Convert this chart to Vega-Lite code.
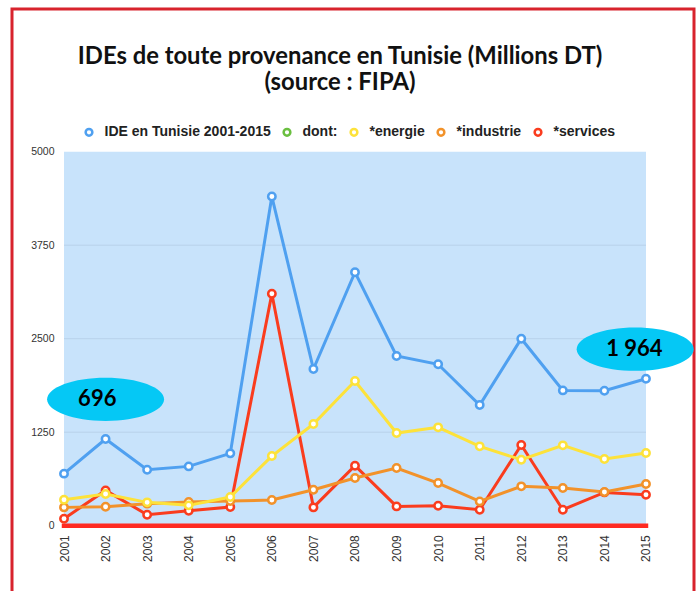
{
  "$schema": "https://vega.github.io/schema/vega-lite/v6.json",
  "width": 682,
  "height": 585,
  "autosize": {"type": "none"},
  "padding": {"left": 12, "top": 9, "right": 3, "bottom": -3},
  "background": "white",
  "config": {
    "view": {"stroke": "#d8232d", "strokeWidth": 3},
    "font": "Liberation Sans"
  },
  "title": {
    "text": ["IDEs de toute provenance en Tunisie (Millions DT)", "(source : FIPA)"],
    "font": "Lato",
    "fontSize": 23.8,
    "fontWeight": "bold",
    "color": "#111111",
    "anchor": "middle",
    "frame": "group",
    "dx": -13,
    "lineHeight": 26,
    "offset": -86
  },
  "datasets": {
    "series": [
      {"year": 2001, "series": "*services", "value": 94},
      {"year": 2002, "series": "*services", "value": 472},
      {"year": 2003, "series": "*services", "value": 147},
      {"year": 2004, "series": "*services", "value": 200},
      {"year": 2005, "series": "*services", "value": 250},
      {"year": 2006, "series": "*services", "value": 3102},
      {"year": 2007, "series": "*services", "value": 245},
      {"year": 2008, "series": "*services", "value": 802},
      {"year": 2009, "series": "*services", "value": 258},
      {"year": 2010, "series": "*services", "value": 267},
      {"year": 2011, "series": "*services", "value": 214},
      {"year": 2012, "series": "*services", "value": 1079},
      {"year": 2013, "series": "*services", "value": 214},
      {"year": 2014, "series": "*services", "value": 445},
      {"year": 2015, "series": "*services", "value": 414},
      {"year": 2001, "series": "*industrie", "value": 245},
      {"year": 2002, "series": "*industrie", "value": 254},
      {"year": 2003, "series": "*industrie", "value": 295},
      {"year": 2004, "series": "*industrie", "value": 316},
      {"year": 2005, "series": "*industrie", "value": 330},
      {"year": 2006, "series": "*industrie", "value": 343},
      {"year": 2007, "series": "*industrie", "value": 481},
      {"year": 2008, "series": "*industrie", "value": 637},
      {"year": 2009, "series": "*industrie", "value": 771},
      {"year": 2010, "series": "*industrie", "value": 570},
      {"year": 2011, "series": "*industrie", "value": 325},
      {"year": 2012, "series": "*industrie", "value": 526},
      {"year": 2013, "series": "*industrie", "value": 503},
      {"year": 2014, "series": "*industrie", "value": 450},
      {"year": 2015, "series": "*industrie", "value": 557},
      {"year": 2001, "series": "*energie", "value": 348},
      {"year": 2002, "series": "*energie", "value": 424},
      {"year": 2003, "series": "*energie", "value": 312},
      {"year": 2004, "series": "*energie", "value": 272},
      {"year": 2005, "series": "*energie", "value": 383},
      {"year": 2006, "series": "*energie", "value": 931},
      {"year": 2007, "series": "*energie", "value": 1359},
      {"year": 2008, "series": "*energie", "value": 1934},
      {"year": 2009, "series": "*energie", "value": 1239},
      {"year": 2010, "series": "*energie", "value": 1315},
      {"year": 2011, "series": "*energie", "value": 1061},
      {"year": 2012, "series": "*energie", "value": 882},
      {"year": 2013, "series": "*energie", "value": 1074},
      {"year": 2014, "series": "*energie", "value": 891},
      {"year": 2015, "series": "*energie", "value": 971},
      {"year": 2001, "series": "IDE en Tunisie 2001-2015", "value": 696},
      {"year": 2002, "series": "IDE en Tunisie 2001-2015", "value": 1159},
      {"year": 2003, "series": "IDE en Tunisie 2001-2015", "value": 749},
      {"year": 2004, "series": "IDE en Tunisie 2001-2015", "value": 793},
      {"year": 2005, "series": "IDE en Tunisie 2001-2015", "value": 967},
      {"year": 2006, "series": "IDE en Tunisie 2001-2015", "value": 4400},
      {"year": 2007, "series": "IDE en Tunisie 2001-2015", "value": 2095},
      {"year": 2008, "series": "IDE en Tunisie 2001-2015", "value": 3388},
      {"year": 2009, "series": "IDE en Tunisie 2001-2015", "value": 2269},
      {"year": 2010, "series": "IDE en Tunisie 2001-2015", "value": 2158},
      {"year": 2011, "series": "IDE en Tunisie 2001-2015", "value": 1613},
      {"year": 2012, "series": "IDE en Tunisie 2001-2015", "value": 2500},
      {"year": 2013, "series": "IDE en Tunisie 2001-2015", "value": 1809},
      {"year": 2014, "series": "IDE en Tunisie 2001-2015", "value": 1805},
      {"year": 2015, "series": "IDE en Tunisie 2001-2015", "value": 1964}
    ],
    "panel": [{"x1": 2001, "x2": 2015, "y1": 0, "y2": 5000}],
    "grid": [{"v": 1250}, {"v": 2500}, {"v": 3750}],
    "callouts": [
      {"year": 2002.0, "value": 1690, "label": "696", "labelYear": 2001.8},
      {"year": 2014.74, "value": 2360, "label": "1 964", "labelYear": 2014.72}
    ]
  },
  "layer": [
    {
      "data": {"name": "panel"},
      "mark": {"type": "rect", "fill": "#c8e3fb"},
      "encoding": {
        "x": {"field": "x1", "type": "quantitative", "scale": {"domain": [1999.749, 2016.155], "nice": false, "zero": false},
          "axis": {"values": [2001, 2002, 2003, 2004, 2005, 2006, 2007, 2008, 2009, 2010, 2011, 2012, 2013, 2014, 2015], "format": "d", "labelAngle": -90, "offset": -68.3, "labelPadding": 9, "ticks": false, "domain": false, "grid": false, "title": null, "labelFontSize": 12, "labelColor": "#333333", "labelFont": "Liberation Sans"}},
        "x2": {"field": "x2"},
        "y": {"field": "y1", "type": "quantitative", "scale": {"domain": [-913.1, 6907.8], "nice": false, "zero": false},
          "axis": {"values": [0, 1250, 2500, 3750, 5000], "format": "d", "offset": -52, "labelPadding": 10, "ticks": false, "domain": false, "grid": false, "title": null, "labelFontSize": 10.5, "labelColor": "#333333", "labelFont": "Liberation Sans"}},
        "y2": {"field": "y2"}
      }
    },
    {
      "data": {"name": "grid"},
      "mark": {"type": "rule", "stroke": "#b8d2ea", "strokeWidth": 1},
      "encoding": {
        "y": {"field": "v", "type": "quantitative"},
        "x": {"datum": 2001, "type": "quantitative"},
        "x2": {"datum": 2015}
      }
    },
    {
      "data": {"name": "panel"},
      "mark": {"type": "rule", "stroke": "#ff2a22", "strokeWidth": 4.5, "strokeCap": "square"},
      "encoding": {
        "x": {"field": "x1", "type": "quantitative"},
        "x2": {"field": "x2"},
        "y": {"datum": 0, "type": "quantitative"}
      }
    },
    {
      "data": {"name": "series"},
      "mark": {"type": "line", "strokeWidth": 3},
      "encoding": {
        "x": {"field": "year", "type": "quantitative"},
        "y": {"field": "value", "type": "quantitative"},
        "stroke": {"field": "series", "type": "nominal",
          "scale": {"domain": ["IDE en Tunisie 2001-2015", "dont:", "*energie", "*industrie", "*services"], "range": ["#4fa0f0", "#6abf40", "#fde23a", "#f2922a", "#fa3c1e"]},
          "legend": {"orient": "none", "direction": "horizontal", "legendX": 70, "legendY": 116, "title": null, "symbolType": "circle", "symbolSize": 45, "symbolStrokeWidth": 2.5, "symbolFillColor": "white", "labelFont": "Liberation Sans", "labelFontSize": 14, "labelFontWeight": "bold", "labelColor": "#222222", "labelOffset": 8.5, "labelLimit": 400, "columnPadding": 7, "padding": 0}},
        "order": {"field": "year", "type": "quantitative"}
      }
    },
    {
      "data": {"name": "series"},
      "mark": {"type": "point", "shape": "circle", "size": 55, "strokeWidth": 2.5, "fill": "white", "filled": false, "opacity": 1, "fillOpacity": 1},
      "encoding": {
        "x": {"field": "year", "type": "quantitative"},
        "y": {"field": "value", "type": "quantitative"},
        "stroke": {"field": "series", "type": "nominal"}
      }
    },
    {
      "data": {"name": "callouts"},
      "mark": {"type": "point", "shape": "M-1,0C-1,-0.204,-0.552,-0.37,0,-0.37C0.552,-0.37,1,-0.204,1,0C1,0.204,0.552,0.37,0,0.37C-0.552,0.37,-1,0.204,-1,0Z", "size": 13689, "filled": true, "fill": "#05c8f5", "opacity": 1, "strokeWidth": 0},
      "encoding": {
        "x": {"field": "year", "type": "quantitative"},
        "y": {"field": "value", "type": "quantitative"}
      }
    },
    {
      "data": {"name": "callouts"},
      "mark": {"type": "text", "font": "Lato", "fontSize": 22, "fontWeight": "bold", "color": "#000000", "align": "center", "baseline": "middle"},
      "encoding": {
        "x": {"field": "labelYear", "type": "quantitative"},
        "y": {"field": "value", "type": "quantitative"},
        "text": {"field": "label"}
      }
    }
  ]
}
